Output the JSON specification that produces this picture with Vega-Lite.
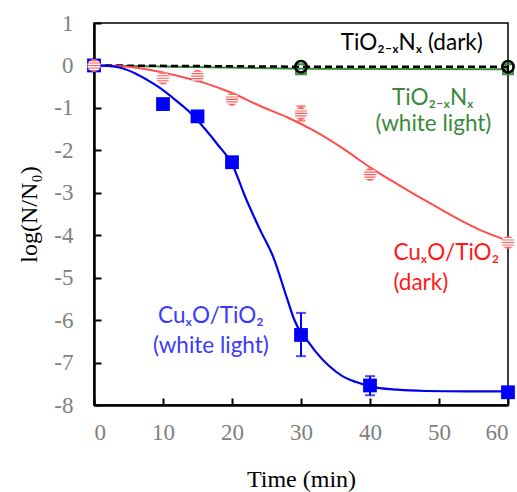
{
  "$schema": "https://vega.github.io/schema/vega-lite/v6.json",
  "width": 414,
  "height": 382,
  "autosize": {"type": "none"},
  "padding": {"left": 94, "top": 23, "right": 9, "bottom": 87},
  "background": "white",
  "config": {
    "view": {"stroke": "black", "strokeWidth": 1.5},
    "axis": {
      "grid": false,
      "domainColor": "black",
      "domainWidth": 2.5,
      "tickColor": "black",
      "tickWidth": 2,
      "tickSize": -7,
      "labelFont": "Liberation Serif",
      "labelFontSize": 23,
      "labelColor": "#808080",
      "labelExpr": "toString(datum.value)",
      "titleFont": "Liberation Serif",
      "titleFontSize": 24,
      "titleFontWeight": "normal",
      "titleColor": "black"
    }
  },
  "datasets": {
    "points": [
      {"series": "blue", "t": 0, "v": 0},
      {"series": "blue", "t": 10, "v": -0.91},
      {"series": "blue", "t": 15, "v": -1.2},
      {"series": "blue", "t": 20, "v": -2.28},
      {"series": "blue", "t": 30, "v": -6.35},
      {"series": "blue", "t": 40, "v": -7.54},
      {"series": "blue", "t": 60, "v": -7.7},
      {"series": "red", "t": 0, "v": 0},
      {"series": "red", "t": 10, "v": -0.3},
      {"series": "red", "t": 15, "v": -0.25},
      {"series": "red", "t": 20, "v": -0.8},
      {"series": "red", "t": 30, "v": -1.13},
      {"series": "red", "t": 40, "v": -2.57},
      {"series": "red", "t": 60, "v": -4.17},
      {"series": "green", "t": 0, "v": 0},
      {"series": "green", "t": 30, "v": -0.09},
      {"series": "green", "t": 60, "v": -0.09},
      {"series": "black", "t": 0, "v": 0},
      {"series": "black", "t": 30, "v": -0.03},
      {"series": "black", "t": 60, "v": -0.03}
    ],
    "curves": [
      {"series": "blue", "t": 0, "v": 0},
      {"series": "blue", "t": 2, "v": -0.01},
      {"series": "blue", "t": 4, "v": -0.06},
      {"series": "blue", "t": 6, "v": -0.19},
      {"series": "blue", "t": 8, "v": -0.37},
      {"series": "blue", "t": 10, "v": -0.58},
      {"series": "blue", "t": 12, "v": -0.84},
      {"series": "blue", "t": 14, "v": -1.12},
      {"series": "blue", "t": 16, "v": -1.48},
      {"series": "blue", "t": 18, "v": -1.88},
      {"series": "blue", "t": 20, "v": -2.32},
      {"series": "blue", "t": 22, "v": -3.13},
      {"series": "blue", "t": 24, "v": -3.85},
      {"series": "blue", "t": 26, "v": -4.52},
      {"series": "blue", "t": 28, "v": -5.5},
      {"series": "blue", "t": 29, "v": -5.98},
      {"series": "blue", "t": 30, "v": -6.3},
      {"series": "blue", "t": 31, "v": -6.5},
      {"series": "blue", "t": 32, "v": -6.72},
      {"series": "blue", "t": 34, "v": -7.07},
      {"series": "blue", "t": 36, "v": -7.32},
      {"series": "blue", "t": 38, "v": -7.46},
      {"series": "blue", "t": 40, "v": -7.56},
      {"series": "blue", "t": 44, "v": -7.64},
      {"series": "blue", "t": 48, "v": -7.67},
      {"series": "blue", "t": 54, "v": -7.68},
      {"series": "blue", "t": 60, "v": -7.68},
      {"series": "red", "t": 0, "v": 0},
      {"series": "red", "t": 4, "v": -0.02},
      {"series": "red", "t": 8, "v": -0.1},
      {"series": "red", "t": 12, "v": -0.24},
      {"series": "red", "t": 16, "v": -0.41},
      {"series": "red", "t": 20, "v": -0.65},
      {"series": "red", "t": 24, "v": -0.95},
      {"series": "red", "t": 28, "v": -1.22},
      {"series": "red", "t": 32, "v": -1.55},
      {"series": "red", "t": 36, "v": -1.95},
      {"series": "red", "t": 40, "v": -2.4},
      {"series": "red", "t": 44, "v": -2.8},
      {"series": "red", "t": 48, "v": -3.18},
      {"series": "red", "t": 52, "v": -3.55},
      {"series": "red", "t": 56, "v": -3.88},
      {"series": "red", "t": 60, "v": -4.13},
      {"series": "green", "t": 0, "v": 0},
      {"series": "green", "t": 30, "v": -0.08},
      {"series": "green", "t": 60, "v": -0.09},
      {"series": "black", "t": 0, "v": 0},
      {"series": "black", "t": 30, "v": -0.03},
      {"series": "black", "t": 60, "v": -0.03}
    ],
    "errors": [
      {"series": "blue", "t": 30, "lo": -6.85, "hi": -5.83},
      {"series": "blue", "t": 40, "lo": -7.77, "hi": -7.32},
      {"series": "red", "t": 30, "lo": -1.3, "hi": -0.96},
      {"series": "red", "t": 15, "lo": -0.35, "hi": -0.15},
      {"series": "red", "t": 60, "lo": -4.27, "hi": -4.07},
      {"series": "black", "t": 60, "lo": -0.13, "hi": 0.07}
    ],
    "labels": [
      {"series": "black", "text": "TiO₂₋ₓNₓ (dark)", "t": 46.05, "v": 0.36},
      {"series": "green", "text": "TiO₂₋ₓNₓ", "t": 49.1, "v": -0.93},
      {"series": "green", "text": "(white light)", "t": 49.2, "v": -1.55},
      {"series": "red", "text": "CuₓO/TiO₂", "t": 43.4, "v": -4.58},
      {"series": "red", "text": "(dark)", "t": 43.4, "v": -5.29},
      {"series": "blue", "text": "CuₓO/TiO₂", "t": 16.95, "v": -6.07},
      {"series": "blue", "text": "(white light)", "t": 16.95, "v": -6.78}
    ]
  },
  "encoding": {
    "x": {
      "field": "t", "type": "quantitative",
      "scale": {"domain": [0, 60], "nice": false, "zero": false},
      "axis": {"title": "Time (min)", "values": [0, 10, 20, 30, 40, 50, 60], "labelPadding": 23, "titlePadding": 23}
    },
    "y": {
      "field": "v", "type": "quantitative",
      "scale": {"domain": [-8, 1], "nice": false, "zero": false},
      "axis": {"title": "log(N/N₀)", "values": [-8, -7, -6, -5, -4, -3, -2, -1, 0, 1], "labelPadding": 28, "titlePadding": 12}
    }
  },
  "layer": [
    {
      "data": {"name": "curves"},
      "transform": [{"filter": "datum.series === 'green'"}],
      "mark": {"type": "line", "color": "#3a8a3a", "strokeWidth": 2}
    },
    {
      "data": {"name": "curves"},
      "transform": [{"filter": "datum.series === 'black'"}],
      "mark": {"type": "line", "color": "black", "strokeWidth": 2.5, "strokeDash": [7, 4]}
    },
    {
      "data": {"name": "curves"},
      "transform": [{"filter": "datum.series === 'red'"}],
      "mark": {"type": "line", "color": "#ff4d4d", "strokeWidth": 2, "interpolate": "monotone"}
    },
    {
      "data": {"name": "curves"},
      "transform": [{"filter": "datum.series === 'blue'"}],
      "mark": {"type": "line", "color": "#0000ee", "strokeWidth": 2.2, "interpolate": "monotone"}
    },
    {
      "data": {"name": "errors"},
      "transform": [{"filter": "datum.series === 'blue'"}],
      "mark": {"type": "rule", "color": "#0000ff", "strokeWidth": 2},
      "encoding": {"y": {"field": "lo", "type": "quantitative"}, "y2": {"field": "hi"}}
    },
    {
      "data": {"name": "errors"},
      "transform": [{"filter": "datum.series === 'blue'"}, {"fold": ["lo", "hi"], "as": ["end", "ev"]}],
      "mark": {"type": "tick", "orient": "horizontal", "color": "#0000ff", "size": 10, "thickness": 2},
      "encoding": {"y": {"field": "ev", "type": "quantitative"}}
    },
    {
      "data": {"name": "errors"},
      "transform": [{"filter": "datum.series === 'red'"}],
      "mark": {"type": "rule", "color": "#ff5050", "strokeWidth": 2},
      "encoding": {"y": {"field": "lo", "type": "quantitative"}, "y2": {"field": "hi"}}
    },
    {
      "data": {"name": "errors"},
      "transform": [{"filter": "datum.series === 'red' && datum.t === 30"}, {"fold": ["lo", "hi"], "as": ["end", "ev"]}],
      "mark": {"type": "tick", "orient": "horizontal", "color": "#ff5050", "size": 9, "thickness": 2},
      "encoding": {"y": {"field": "ev", "type": "quantitative"}}
    },
    {
      "data": {"name": "errors"},
      "transform": [{"filter": "datum.series === 'black'"}],
      "mark": {"type": "rule", "color": "black", "strokeWidth": 2},
      "encoding": {"y": {"field": "lo", "type": "quantitative"}, "y2": {"field": "hi"}}
    },
    {
      "data": {"name": "points"},
      "transform": [{"filter": "datum.series === 'green'"}],
      "mark": {"type": "point", "shape": "square", "filled": false, "color": "#3a8a3a", "size": 100, "strokeWidth": 1.8, "opacity": 1}
    },
    {
      "data": {"name": "points"},
      "transform": [{"filter": "datum.series === 'black'"}],
      "mark": {"type": "point", "shape": "circle", "filled": false, "color": "black", "size": 130, "strokeWidth": 2.5, "opacity": 1}
    },
    {
      "data": {"name": "points"},
      "transform": [{"filter": "datum.series === 'blue'"}],
      "mark": {"type": "point", "shape": "square", "filled": true, "color": "#0000ff", "size": 190, "opacity": 1}
    },
    {
      "data": {"name": "points"},
      "transform": [{"filter": "datum.series === 'red'"}],
      "mark": {"type": "point", "shape": "circle", "filled": true, "fill": "#ff5a5a", "stroke": "#ff7070", "strokeWidth": 1, "size": 140, "opacity": 1}
    },
    {
      "data": {"name": "points"},
      "transform": [{"filter": "datum.series === 'red'"}],
      "mark": {"type": "point", "shape": "M-0.9,-0.62H0.9M-1.1,-0.2H1.1M-1.1,0.22H1.1M-0.9,0.64H0.9", "filled": false, "stroke": "white", "strokeWidth": 1.3, "size": 140, "opacity": 1}
    },
    {
      "data": {"name": "labels"},
      "transform": [{"filter": "datum.series === 'black'"}],
      "mark": {"type": "text", "font": "Lato", "fontSize": 22.5, "color": "black", "align": "center", "baseline": "alphabetic"},
      "encoding": {"text": {"field": "text"}}
    },
    {
      "data": {"name": "labels"},
      "transform": [{"filter": "datum.series === 'green'"}],
      "mark": {"type": "text", "font": "Lato", "fontSize": 22.5, "color": "#3a8a3a", "align": "center", "baseline": "alphabetic"},
      "encoding": {"text": {"field": "text"}}
    },
    {
      "data": {"name": "labels"},
      "transform": [{"filter": "datum.series === 'red'"}],
      "mark": {"type": "text", "font": "Lato", "fontSize": 22.5, "color": "#ff1a1a", "align": "left", "baseline": "alphabetic"},
      "encoding": {"text": {"field": "text"}}
    },
    {
      "data": {"name": "labels"},
      "transform": [{"filter": "datum.series === 'blue'"}],
      "mark": {"type": "text", "font": "Lato", "fontSize": 22.5, "color": "#3a3aff", "align": "center", "baseline": "alphabetic"},
      "encoding": {"text": {"field": "text"}}
    }
  ]
}
